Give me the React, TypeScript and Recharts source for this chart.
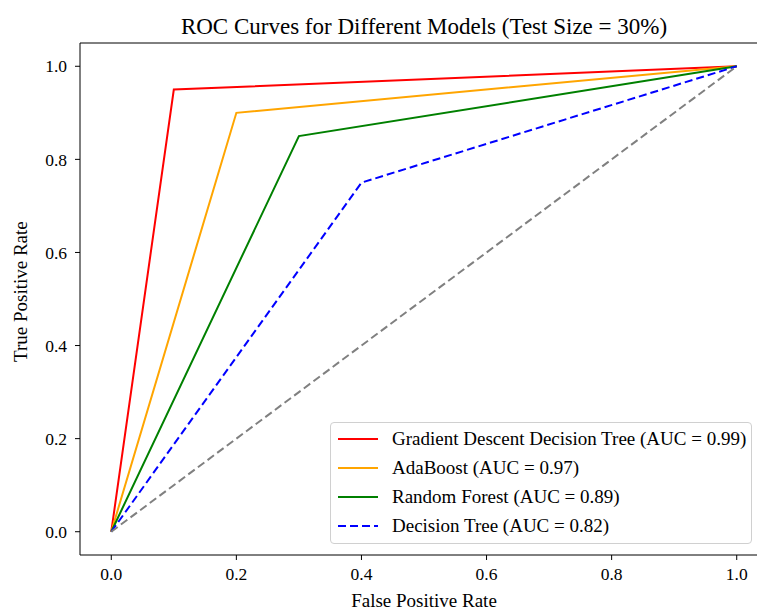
import { LineChart, Line, XAxis, YAxis, Legend, ReferenceLine } from "recharts";

const FONT = "'Liberation Serif', 'Times New Roman', serif";

// ROC points
const fprGD = [0, 0.1, 1];
const tprGD = [0, 0.95, 1];
const fprAda = [0, 0.2, 1];
const tprAda = [0, 0.9, 1];
const fprRF = [0, 0.3, 1];
const tprRF = [0, 0.85, 1];
const fprDT = [0, 0.4, 1];
const tprDT = [0, 0.75, 1];
const fprChance = [0, 1];
const tprChance = [0, 1];

const xTicks = [0, 0.2, 0.4, 0.6, 0.8, 1.0];
const yTicks = [0, 0.2, 0.4, 0.6, 0.8, 1.0];

const zip = (xs: number[], ys: number[]) => xs.map((x, i) => ({ x, y: ys[i] }));

const SERIES = [
  { name: "Gradient Descent Decision Tree (AUC = 0.99)", color: "#ff0000", dash: undefined, data: zip(fprGD, tprGD) },
  { name: "AdaBoost (AUC = 0.97)", color: "#ffa500", dash: undefined, data: zip(fprAda, tprAda) },
  { name: "Random Forest (AUC = 0.89)", color: "#008000", dash: undefined, data: zip(fprRF, tprRF) },
  { name: "Decision Tree (AUC = 0.82)", color: "#0000ff", dash: "8 4", data: zip(fprDT, tprDT) },
];

const tickStyle = { fontSize: 17.5, fill: "#000", fontFamily: FONT };
const labelStyle = { fontSize: 19, fill: "#000", fontFamily: FONT };

function LegendBox() {
  return (
    <div
      style={{
        border: "1px solid #d0d0d0",
        borderRadius: 4,
        background: "rgba(255,255,255,0.85)",
        padding: "1px 6px 3px 6px",
        fontFamily: FONT,
        fontSize: 19,
        color: "#000",
        width: 408,
      }}
    >
      {SERIES.map((s) => (
        <div key={s.name} style={{ display: "flex", alignItems: "center", height: 29 }}>
          <svg width={42} height={6} style={{ marginRight: 13, flexShrink: 0 }}>
            <line x1={1} y1={3} x2={41} y2={3} stroke={s.color} strokeWidth={2} strokeDasharray={s.dash} />
          </svg>
          <span style={{ whiteSpace: "nowrap" }}>{s.name}</span>
        </div>
      ))}
    </div>
  );
}

export default function App() {
  return (
    <div style={{ position: "absolute", left: 0, top: 0, width: 757, height: 611, overflow: "hidden", background: "#fff" }}>
      <div
        style={{
          position: "absolute",
          left: 0,
          top: 12,
          width: 848,
          textAlign: "center",
          fontFamily: FONT,
          fontSize: 23,
          lineHeight: "30px",
        }}
      >
        ROC Curves for Different Models (Test Size = 30%)
      </div>
      <LineChart width={800} height={611} margin={{ top: 43, right: 32, bottom: 0, left: 0 }}>
        <XAxis
          type="number"
          dataKey="x"
          domain={[-0.05, 1.05]}
          ticks={xTicks}
          allowDataOverflow
          tickFormatter={(v: number) => v.toFixed(1)}
          tick={tickStyle}
          tickSize={5}
          tickMargin={8}
          stroke="#000"
          height={56}
          label={{ value: "False Positive Rate", position: "insideBottom", offset: 0, dy: -4, style: labelStyle }}
        />
        <YAxis
          type="number"
          dataKey="y"
          domain={[-0.05, 1.05]}
          ticks={yTicks}
          allowDataOverflow
          tickFormatter={(v: number) => v.toFixed(1)}
          tick={tickStyle}
          tickSize={5}
          tickMargin={8}
          stroke="#000"
          width={80}
          label={{ value: "True Positive Rate", angle: -90, position: "insideLeft", offset: 20, dy: 63, style: labelStyle }}
        />
        <ReferenceLine y={1.05} stroke="#000" strokeWidth={1} />
        <ReferenceLine x={1.05} stroke="#000" strokeWidth={1} />
        <Legend
          layout="horizontal"
          verticalAlign="middle"
          wrapperStyle={{ left: 330, top: 422, width: "auto" }}
          content={() => <LegendBox />}
        />
        {SERIES.map((s) => (
          <Line
            key={s.name}
            data={s.data}
            dataKey="y"
            name={s.name}
            type="linear"
            stroke={s.color}
            strokeWidth={2}
            strokeDasharray={s.dash}
            dot={false}
            activeDot={false}
            isAnimationActive={false}
          />
        ))}
        <Line
          data={zip(fprChance, tprChance)}
          dataKey="y"
          name="chance"
          type="linear"
          stroke="#808080"
          strokeWidth={2}
          strokeDasharray="8 4"
          dot={false}
          activeDot={false}
          legendType="none"
          isAnimationActive={false}
        />
      </LineChart>
    </div>
  );
}
